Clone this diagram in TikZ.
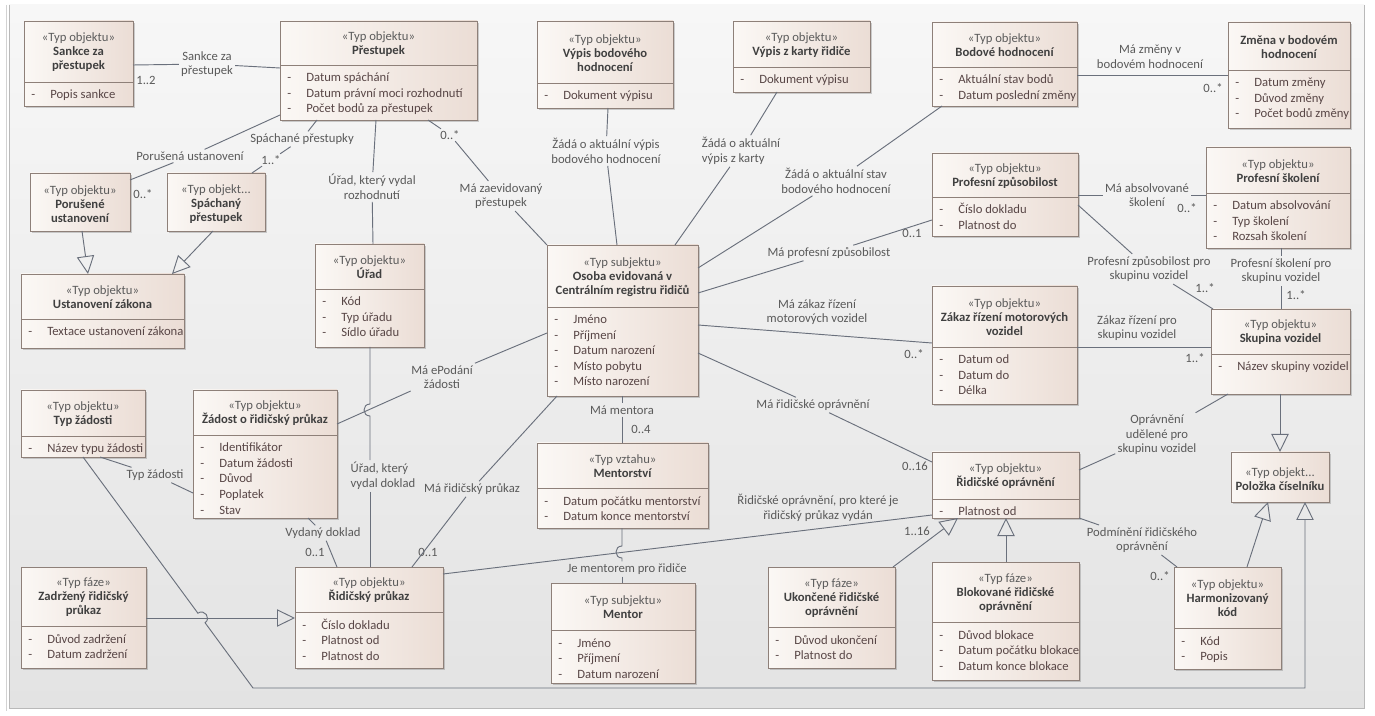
\documentclass[tikz,border=0pt]{standalone}
\usepackage{fontspec}
\setmainfont{Carlito}
\usetikzlibrary{arrows.meta,calc,shadows}
\definecolor{boxL}{HTML}{FBF8F5}
\definecolor{boxR}{HTML}{EBDDD5}
\definecolor{boxB}{HTML}{8E8079}
\definecolor{lineC}{HTML}{6A707C}
\definecolor{nmC}{HTML}{404040}
\definecolor{stC}{HTML}{5C5C5C}
\definecolor{lblC}{HTML}{5A5A5A}
\definecolor{attC}{HTML}{584646}
\definecolor{panelT}{HTML}{F7F7F7}
\definecolor{panelB}{HTML}{E3E3E3}
\newcommand\fsz{\fontsize{9.5}{11}\selectfont}
\newcommand\hsz{\fontsize{9.5}{10.5}\selectfont}
\newcommand\stereo[1]{{\mdseries\color{stC}«#1»}}
\newcommand\stereotr[1]{{\mdseries\color{stC}«#1...}}
\newcommand\umlattr[1]{\makebox[14.25pt][l]{-}#1}
\newcommand\umlbox[8]{%
  \node[ubox, anchor=north west, minimum width={(#4-#2)*0.75pt}, minimum height={(#5-#3)*0.75pt}] (#1) at (#2,#3) {};
  \draw[boxB, line width=0.6pt] (#2,#6) -- (#4,#6);
  \node[uhdr] (#1-h) at ({(#2+#4)/2},{(#3+#6)/2+1}) {#7};
  \foreach \a [count=\i] in {#8} {\node[uatt, anchor=base west] (#1-a\i) at (#2+7,{#6+17+(\i-1)*15.5}) {\umlattr{\a}};}
}
\newcommand\umlhead[6]{%
  \node[ubox, anchor=north west, minimum width={(#4-#2)*0.75pt}, minimum height={(#5-#3)*0.75pt}] (#1) at (#2,#3) {};
  \node[uhdr] (#1-h) at ({(#2+#4)/2},{(#3+#5)/2+2}) {#6};
}
\tikzset{
  ubox/.style={draw=boxB, line width=0.6pt, left color=boxL, right color=boxR, inner sep=0pt, outer sep=0pt,
    drop shadow={shadow xshift=1.6pt, shadow yshift=-1.6pt, opacity=0.3, fill=black!60}},
  uhdr/.style={align=center, font=\hsz\bfseries, text=nmC, inner sep=0pt},
  uatt/.style={font=\fsz, text=attC, inner sep=0pt},
  conn/.style={draw=lineC, line width=0.7pt},
  gen/.style={conn, -{Triangle[open, length=13.5pt, width=13pt, line width=0.7pt]}},
  lbl/.style={font=\fsz, text=lblC, align=center, inner sep=1.5pt},
  mult/.style={font=\fsz, text=lblC, inner sep=1pt}
}
\begin{document}
\begin{tikzpicture}[x=0.75pt,y=-0.75pt]
\useasboundingbox (0,0) rectangle (1375,716);
\fill[white] (0,0) rectangle (1375,716);
\shade[top color=panelT, bottom color=panelB] (9,5) rectangle (1364,708);
\draw[gray!55, line width=0.6pt] (9,5) -- (9,708) -- (1364,708) -- (1364,5);
\draw[gray!35, line width=0.5pt] (6,5) -- (6,711);

% ---------- boxes ----------
\umlbox{sankce}{24}{21}{133}{106}{82}{\stereo{Typ objektu}\\Sankce za\\přestupek}{Popis sankce}
\umlbox{prestupek}{280}{21}{477}{120}{65}{\stereo{Typ objektu}\\Přestupek}{Datum spáchání,Datum právní moci rozhodnutí,Počet bodů za přestupek}
\umlbox{vypisbod}{537}{21}{673}{108}{83}{\stereo{Typ objektu}\\Výpis bodového\\hodnocení}{Dokument výpisu}
\umlbox{vypiskarta}{733}{21}{870}{92}{67}{\stereo{Typ objektu}\\Výpis z karty řidiče}{Dokument výpisu}
\umlbox{bodove}{932}{22}{1077}{106}{67}{\stereo{Typ objektu}\\Bodové hodnocení}{Aktuální stav bodů,Datum poslední změny}
\umlbox{zmena}{1228}{22}{1350}{128}{70}{Změna v bodovém\\hodnocení}{Datum změny,Důvod změny,Počet bodů změny}
\umlbox{profzp}{932}{153}{1078}{236}{197}{\stereo{Typ objektu}\\Profesní způsobilost}{Číslo dokladu,Platnost do}
\umlbox{profsk}{1206}{147}{1350}{248}{193}{\stereo{Typ objektu}\\Profesní školení}{Datum absolvování,Typ školení,Rozsah školení}
\umlbox{osoba}{547}{245}{698}{396}{307}{\stereo{Typ subjektu}\\Osoba evidovaná v\\Centrálním registru řidičů}{Jméno,Příjmení,Datum narození,Místo pobytu,Místo narození}
\umlbox{zakaz}{932}{286}{1077}{404}{347}{\stereo{Typ objektu}\\Zákaz řízení motorových\\vozidel}{Datum od,Datum do,Délka}
\umlbox{skupina}{1211}{309}{1350}{394}{354}{\stereo{Typ objektu}\\Skupina vozidel}{Název skupiny vozidel}
\umlhead{porus}{30}{173}{130}{231}{\stereo{Typ objektu}\\Porušené\\ustanovení}
\umlhead{spach}{167}{173}{265}{231}{\stereotr{Typ objekt}\\Spáchaný\\přestupek}
\umlbox{ustan}{21}{274}{184}{348}{319}{\stereo{Typ objektu}\\Ustanovení zákona}{Textace ustanovení zákona}
\umlbox{urad}{315}{244}{424}{347}{289}{\stereo{Typ objektu}\\Úřad}{Kód,Typ úřadu,Sídlo úřadu}
\umlbox{typzad}{21}{390}{145}{457}{436}{\stereo{Typ objektu}\\Typ žádosti}{Název typu žádosti}
\umlbox{zadost}{193}{390}{337}{518}{435}{\stereo{Typ objektu}\\Žádost o řidičský průkaz}{Identifikátor,Datum žádosti,Důvod,Poplatek,Stav}
\umlbox{zadrz}{21}{567}{146}{668}{626}{\stereo{Typ fáze}\\Zadržený řidičský\\průkaz}{Důvod zadržení,Datum zadržení}
\umlbox{prukaz}{295}{567}{443}{668}{612}{\stereo{Typ objektu}\\Řidičský průkaz}{Číslo dokladu,Platnost od,Platnost do}
\umlbox{mentorstvi}{537}{443}{708}{528}{488}{\stereo{Typ vztahu}\\Mentorství}{Datum počátku mentorství,Datum konce mentorství}
\umlbox{mentor}{551}{583}{695}{683}{630}{\stereo{Typ subjektu}\\Mentor}{Jméno,Příjmení,Datum narození}
\umlbox{ukonc}{768}{567}{895}{668}{627}{\stereo{Typ fáze}\\Ukončené řidičské\\oprávnění}{Důvod ukončení,Platnost do}
\umlbox{ridopr}{932}{452}{1079}{518}{499}{\stereo{Typ objektu}\\Řidičské oprávnění}{Platnost od}
\umlbox{blok}{932}{562}{1079}{680}{622}{\stereo{Typ fáze}\\Blokované řidičské\\oprávnění}{Důvod blokace,Datum počátku blokace,Datum konce blokace}
\umlbox{harm}{1174}{567}{1281}{669}{628}{\stereo{Typ objektu}\\Harmonizovaný\\kód}{Kód,Popis}
\umlhead{polozka}{1231}{452}{1329}{502}{\stereotr{Typ objekt}\\Položka číselníku}

% ---------- labels ----------
\node[lbl] (lsank) at (207,64) {Sankce za\\přestupek};
\node[lbl] (lporus) at (190,156) {Porušená ustanovení};
\node[lbl] (lspach) at (302,139) {Spáchané přestupky};
\node[lbl] (lurad1) at (372,187) {Úřad, který vydal\\rozhodnutí};
\node[lbl] (lzaev) at (501,196) {Má zaevidovaný\\přestupek};
\node[lbl] (lvbod) at (606,151) {Žádá o aktuální výpis\\bodového hodnocení};
\node[lbl, align=left] (lvkar) at (741,151) {Žádá o aktuální\\výpis z karty};
\node[lbl] (lbod) at (836,181) {Žádá o aktuální stav\\bodového hodnocení};
\node[lbl] (lzmena) at (1150,57) {Má změny v\\bodovém hodnocení};
\node[lbl] (lprofzp) at (829,253) {Má profesní způsobilost};
\node[lbl] (labs) at (1147,195) {Má absolvované\\školení};
\node[lbl] (lpzsk) at (1149,269) {Profesní způsobilost pro\\skupinu vozidel};
\node[lbl] (lpssk) at (1281,271) {Profesní školení pro\\skupinu vozidel};
\node[lbl] (lzakaz) at (817,312) {Má zákaz řízení\\motorových vozidel};
\node[lbl] (lzaksk) at (1137,328) {Zákaz řízení pro\\skupinu vozidel};
\node[lbl] (lridopr) at (813,405) {Má řidičské oprávnění};
\node[lbl] (loprsk) at (1157,435) {Oprávnění\\udělené pro\\skupinu vozidel};
\node[lbl] (ltypzad) at (155,475) {Typ žádosti};
\node[lbl] (lepod) at (442,377) {Má ePodání\\žádosti};
\node[lbl, align=left] (lurad2) at (383,476) {Úřad, který\\vydal doklad};
\node[lbl] (lvyd) at (323,533) {Vydaný doklad};
\node[lbl] (lmrp) at (472,489) {Má řidičský průkaz};
\node[lbl] (lment) at (622,410) {Má mentora};
\node[lbl] (lje) at (627,569) {Je mentorem pro řidiče};
\node[lbl] (lropr) at (818,508) {Řidičské oprávnění, pro které je\\řidičský průkaz vydán};
\node[lbl] (lpodm) at (1142,540) {Podmínění řidičského\\oprávnění};

% ---------- multiplicities ----------
\node[mult] (m1) at (146,80) {1..2};
\node[mult] (m2) at (143,194) {0..*};
\node[mult] (m3) at (271,160) {1..*};
\node[mult] (m5) at (450,135) {0..*};
\node[mult] (m9) at (1213,88) {0..*};
\node[mult] (m10) at (912,233) {0..1};
\node[mult] (m11) at (1187,208) {0..*};
\node[mult] (m12) at (1205,288) {1..*};
\node[mult] (m13) at (1296,295) {1..*};
\node[mult] (m14) at (914,354) {0..*};
\node[mult] (m15) at (1195,358) {1..*};
\node[mult] (m16) at (915,466) {0..16};
\node[mult] (m24) at (315,552) {0..1};
\node[mult] (m25) at (428,552) {0..1};
\node[mult] (m26) at (641,429) {0..4};
\node[mult] (m28) at (917,531) {1..16};
\node[mult] (m32) at (1160,576) {0..*};

% ---------- hop coordinates ----------
\coordinate (h1a) at (197.9,613.2);
\coordinate (h1b) at (205.1,622.8);
\coordinate (c1) at (253,688);
\coordinate (c2) at (1305,688);
\coordinate (h2a) at (370,404);
\coordinate (h2b) at (370,416);
\coordinate (h3a) at (622,546);
\coordinate (h3b) at (622,558);

% ---------- connectors ----------
\draw[conn] ($(sankce.north east)+(0,44)$) -- (lsank) -- ($(prestupek.north west)+(0,47)$);
\draw[conn] ($(prestupek.south west)+(0,-5)$) -- (lporus) -- ($(porus.north east)+(0,7)$);
\draw[conn] ($(prestupek.south west)+(37,0)$) -- (lspach) -- (m3) -- ($(spach.north east)+(-13,0)$);
\draw[conn] ($(prestupek.south west)+(96,0)$) -- (lurad1) -- ($(urad.north west)+(58,0)$);
\draw[conn] ($(prestupek.south west)+(148,0)$) -- (m5) -- (lzaev) -- (osoba.north west);
\draw[conn] ($(vypisbod.south west)+(71,0)$) -- (lvbod) -- ($(osoba.north west)+(70,0)$);
\draw[conn] ($(vypiskarta.south west)+(44,0)$) -- (lvkar) -- ($(osoba.north west)+(128,0)$);
\draw[conn] ($(bodove.south west)+(10,0)$) -- (lbod) -- ($(osoba.north east)+(0,23)$);
\draw[conn] ($(bodove.north east)+(0,53)$) -- ($(zmena.north west)+(0,53)$);
\draw[conn] ($(osoba.north east)+(0,48)$) -- (lprofzp) -- ($(profzp.north west)+(0,67)$);
\draw[conn] ($(profzp.north east)+(0,42)$) -- (labs) -- ($(profsk.north west)+(0,48)$);
\draw[conn] ($(profzp.north east)+(0,52)$) -- (lpzsk) -- ($(skupina.north west)+(2,0)$);
\draw[conn] ($(profsk.south west)+(75,0)$) -- (lpssk) -- ($(skupina.north west)+(70,0)$);
\draw[conn] ($(osoba.north east)+(0,80)$) -- ($(zakaz.north west)+(0,57)$);
\draw[conn] ($(zakaz.north east)+(0,61)$) -- ($(skupina.north west)+(0,38)$);
\draw[conn] ($(osoba.north east)+(0,108)$) -- (lridopr) -- ($(ridopr.north west)+(0,10)$);
\draw[conn] ($(skupina.south west)+(17,0)$) -- (loprsk) -- ($(ridopr.north east)+(0,18)$);
\draw[gen] ($(skupina.south west)+(69,0)$) -- ($(polozka.north west)+(49,0)$);
\draw[gen] ($(harm.north west)+(73,0)$) -- ($(polozka.south west)+(37,0)$);
\draw[gen] ($(typzad.south west)+(62,0)$) -- (h1a) .. controls (204.3,608.5) and (211.5,618.1) .. (h1b) -- (c1) -- (c2) -- ($(polozka.south west)+(74,0)$);
\draw[conn] ($(typzad.south west)+(79,0)$) -- (ltypzad) -- ($(zadost.north west)+(0,103)$);
\draw[conn] ($(zadost.north east)+(0,34)$) -- (lepod) -- ($(osoba.north west)+(0,88)$);
\draw[conn] ($(urad.south west)+(55,0)$) -- (h2a) .. controls (362,404) and (362,416) .. (h2b) -- (h2b |- lurad2.north);
\draw[conn] (h2b |- lurad2.south) -- ($(prukaz.north west)+(75,0)$);
\draw[conn] ($(zadost.south west)+(115,0)$) -- (lvyd) -- ($(prukaz.north west)+(42,0)$);
\draw[conn] ($(osoba.south west)+(10,0)$) -- (lmrp) -- ($(prukaz.north east)+(-31,0)$);
\draw[conn] ($(osoba.south west)+(75,0)$) -- (lment) -- ($(mentorstvi.north west)+(85,0)$);
\draw[conn] ($(mentorstvi.south west)+(85,0)$) -- (h3a) .. controls (614,546) and (614,558) .. (h3b) -- (h3b |- lje.north);
\draw[conn] (h3b |- lje.south) -- ($(mentor.north west)+(71,0)$);
\draw[conn] ($(prukaz.north east)+(0,7)$) -- ($(ridopr.south west)+(0,-3)$);
\draw[gen] ($(zadrz.north east)+(0,51)$) -- ($(prukaz.north west)+(0,51)$);
\draw[gen] ($(ukonc.north east)+(-2,0)$) -- ($(ridopr.south west)+(26,0)$);
\draw[gen] ($(blok.north west)+(74,0)$) -- ($(ridopr.south west)+(74,0)$);
\draw[conn] (ridopr.south east) -- (lpodm) -- ($(harm.north west)+(3,0)$);
\draw[gen] ($(porus.south west)+(52,0)$) -- ($(ustan.north west)+(67,0)$);
\draw[gen] ($(spach.south west)+(46,0)$) -- ($(ustan.north west)+(151,0)$);
\end{tikzpicture}
\end{document}
